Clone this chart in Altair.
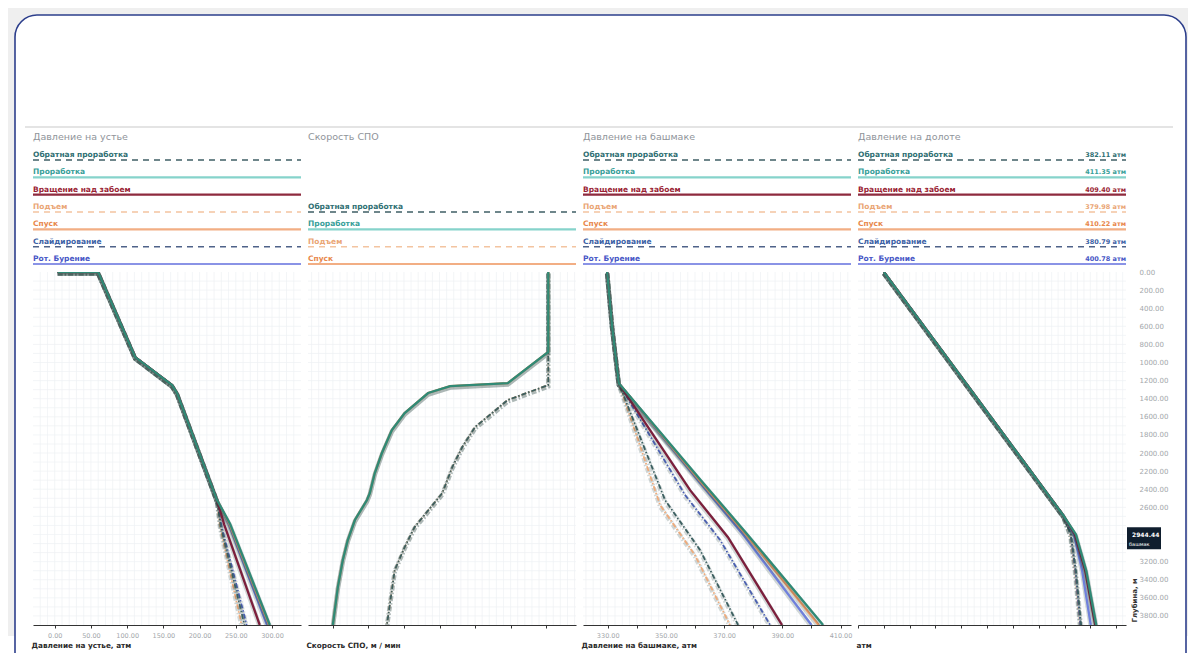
import altair as alt
import pandas as pd

FONT = "DejaVu Sans"

# ---------------- categories / styles ----------------
SERIES = ["Обратная проработка", "Проработка", "Вращение над забоем", "Подъем",
          "Спуск", "Слайдирование", "Рот. Бурение"]
LEGEND_LINE_COLORS = ["#3f5f66", "#86d3cb", "#8e2a3e", "#f3c4a0", "#f2ae84", "#4f6289", "#8a93e6"]
LABEL_COLORS = ["#2f6f73", "#39a099", "#9a1f35", "#eaa676", "#e8874c", "#3d62a6", "#4757c6"]
PLOT_COLORS = ["#3b5f60", "#2f8a76", "#7c1f3c", "#eeab7c", "#ee9a66", "#4a5fb0", "#6f80dc"]
DASHED = [True, False, False, True, False, True, False]
DRAW_ORDER = ["Подъем", "Слайдирование", "Обратная проработка", "Рот. Бурение",
              "Спуск", "Вращение над забоем", "Проработка"]
BIT_PRESSURE_LABELS = ["382.11 атм", "411.35 атм", "409.40 атм", "379.98 атм",
                       "410.22 атм", "380.79 атм", "400.78 атм"]

PANEL_TITLES = ["Давление на устье", "Скорость СПО", "Давление на башмаке", "Давление на долоте"]
AXIS_TITLES = ["Давление на устье, атм", "Скорость СПО, м / мин", "Давление на башмаке, атм", "атм"]
PANEL_SERIES = [SERIES, ["Обратная проработка", "Проработка", "Подъем", "Спуск"], SERIES, SERIES]

# ---------------- axes ----------------
X_DOMAINS = [[-30, 340], [-3.5, 34.2], [321.5, 413.6], [-50, 469]]
X_TICKS = [[0, 50, 100, 150, 200, 250, 300],
           [0, 5, 10, 15, 20, 25, 30],
           [330, 340, 350, 360, 370, 380, 390, 400, 410],
           [-50, 0, 50, 100, 150, 200, 250, 300, 350, 400, 450]]
X_GRID_STEP = [10, 1, 2.5, 12.5]
DEPTH_DOMAIN = [0, 3900]
DEPTH_TICKS = [0, 200, 400, 600, 800, 1000, 1200, 1400, 1600, 1800, 2000, 2200, 2400, 2600,
               3200, 3400, 3600, 3800]
SHOE_DEPTH = 2944.44
SHOE_LABEL = "башмак"

# ---------------- panel 1: wellhead pressure ----------------
WH_TOP_DEPTH = [0, 0, 940, 1250, 1340, 2520]
WH_TOP_P = [4, 60, 111, 162, 169, 224]
WH_TAIL = {
    "Обратная проработка": ([2800, 3900], [229, 262]),
    "Проработка": ([2780, 3900], [242, 297]),
    "Вращение над забоем": ([2790, 3900], [234, 283]),
    "Подъем": ([2800, 3900], [228, 258]),
    "Спуск": ([2780, 3900], [241, 296]),
    "Слайдирование": ([2800, 3900], [230, 265]),
    "Рот. Бурение": ([2780, 3900], [240, 293]),
}

# ---------------- panel 2: tripping speed ----------------
SPO_SOLID_DEPTH = [0, 884, 1227, 1260, 1337, 1558, 1746, 2000, 2221, 2442, 2519, 2740, 2961, 3182, 3481, 3900]
SPO_SOLID_V = [30.3, 30.3, 24.6, 16.5, 13.4, 10.1, 8.3, 6.9, 5.9, 5.2, 4.8, 3.1, 2.1, 1.4, 0.7, 0.0]
SPO_DASH_DEPTH = [0, 1249, 1414, 1558, 1713, 1934, 2155, 2442, 2818, 3039, 3293, 3900]
SPO_DASH_V = [30.3, 30.3, 24.6, 22.4, 20.0, 18.2, 16.8, 15.4, 11.5, 10.1, 8.7, 7.6]

# ---------------- panel 3: shoe pressure ----------------
SHOE_TOP_DEPTH = [0, 600, 1230]
SHOE_TOP_P = [329.8, 331.5, 333.8]
SHOE_TAIL = {
    "Обратная проработка": ([2520, 3070, 3900], [349.7, 361.7, 374.8]),
    "Проработка": ([2300, 2880, 3900], [362.0, 377.5, 404.0]),
    "Вращение над забоем": ([2410, 2930, 3900], [358.3, 371.3, 389.9]),
    "Подъем": ([2575, 3130, 3900], [348.0, 360.0, 372.0]),
    "Спуск": ([2300, 2880, 3900], [361.5, 377.0, 402.5]),
    "Слайдирование": ([2465, 2960, 3900], [356.6, 368.6, 385.8]),
    "Рот. Бурение": ([2300, 2880, 3900], [361.0, 376.0, 400.0]),
}

# ---------------- panel 4: bit pressure ----------------
BIT_TOP_DEPTH = [0, 1300, 2685]
BIT_TOP_P = [0, 168, 347]
BIT_TAIL = {
    "Обратная проработка": ([2900, 3300, 3900], [362, 372, 382.11]),
    "Проработка": ([2900, 3300, 3900], [372, 392, 411.35]),
    "Вращение над забоем": ([2900, 3300, 3900], [370, 390, 409.40]),
    "Подъем": ([2900, 3300, 3900], [361, 370, 379.98]),
    "Спуск": ([2900, 3300, 3900], [371, 391, 410.22]),
    "Слайдирование": ([2900, 3300, 3900], [362, 371, 380.79]),
    "Рот. Бурение": ([2900, 3300, 3900], [368, 384, 400.78]),
}

W = 268
HEAD_H = 144
PLOT_H = 353
GAP = 3


def build_frame(top_d, top_v, tails):
    rows = []
    for s, (d, v) in tails.items():
        dd = list(top_d) + list(d)
        vv = list(top_v) + list(v)
        for i, (a, b) in enumerate(zip(dd, vv)):
            rows.append({"series": s, "i": i, "depth": a, "value": b})
    return pd.DataFrame(rows)


def build_spo():
    rows = []
    for s, (d, v) in {"Обратная проработка": (SPO_DASH_DEPTH, SPO_DASH_V),
                      "Подъем": (SPO_DASH_DEPTH, SPO_DASH_V),
                      "Проработка": (SPO_SOLID_DEPTH, SPO_SOLID_V),
                      "Спуск": (SPO_SOLID_DEPTH, SPO_SOLID_V)}.items():
        for i, (a, b) in enumerate(zip(d, v)):
            rows.append({"series": s, "i": i, "depth": a, "value": b})
    return pd.DataFrame(rows)


PANEL_DATA = [build_frame(WH_TOP_DEPTH, WH_TOP_P, WH_TAIL), build_spo(),
              build_frame(SHOE_TOP_DEPTH, SHOE_TOP_P, SHOE_TAIL),
              build_frame(BIT_TOP_DEPTH, BIT_TOP_P, BIT_TAIL)]

hy = alt.Scale(domain=[-1.846, 6.462], reverse=True, nice=False, zero=False)


def header(k):
    names = PANEL_SERIES[k]
    offset = len(SERIES) - len(names) if k == 1 else 0
    recs = []
    for j, s in enumerate(names):
        idx = SERIES.index(s)
        recs.append({"row": j + offset, "label": s, "lc": LEGEND_LINE_COLORS[idx],
                     "tc": LABEL_COLORS[idx], "dash": "dash" if DASHED[idx] else "solid",
                     "sw": 1.5 if DASHED[idx] else 2.2, "val": BIT_PRESSURE_LABELS[idx]})
    df = pd.DataFrame(recs)
    ycode = alt.Y("row:Q", scale=hy, axis=None)
    title = alt.Chart(pd.DataFrame({"t": [PANEL_TITLES[k]]})).mark_text(
        align="left", baseline="middle", fontSize=9.5, color="#8f949a", font=FONT
    ).encode(x=alt.value(0), y=alt.value(9), text="t:N")
    rules = alt.Chart(df).mark_rule().encode(
        x=alt.value(0), x2=alt.value(W), y=ycode,
        color=alt.Color("lc:N", scale=None),
        strokeWidth=alt.StrokeWidth("sw:Q", scale=None),
        strokeDash=alt.StrokeDash("dash:N", scale=alt.Scale(domain=["solid", "dash"],
                                                            range=[[1, 0], [6, 5]]), legend=None),
    )
    labels = alt.Chart(df).mark_text(
        align="left", baseline="alphabetic", dy=-3, fontSize=7.5, fontWeight="bold", font=FONT
    ).encode(x=alt.value(0), y=ycode, text="label:N", color=alt.Color("tc:N", scale=None))
    layers = [title, rules, labels]
    if k == 3:
        vals = alt.Chart(df).mark_text(
            align="right", baseline="alphabetic", dy=-3, fontSize=6.5, fontWeight="bold", font=FONT
        ).encode(x=alt.value(W), y=ycode, text="val:N", color=alt.Color("tc:N", scale=None))
        layers.append(vals)
    return alt.layer(*layers).properties(width=W, height=HEAD_H)


def x_axis(k):
    common = dict(values=X_TICKS[k], title=AXIS_TITLES[k], titleAnchor="start", titleAlign="left",
                  titleX=-2, titleY=20, titleBaseline="middle", titleFontSize=7.3,
                  titleFontWeight="bold", titleColor="#2a2a2a", titleFont=FONT,
                  labelColor="#a3a7ab", labelFontSize=6.5, labelFont=FONT, labelPadding=4,
                  tickColor="#333333", tickSize=3, domainColor="#333333", domainWidth=1.2,
                  grid=False, labelFlush=False)
    if k == 0:
        return alt.Axis(format=".2f", **common)
    if k == 2:
        return alt.Axis(labelExpr="datum.value % 20 == 10 ? format(datum.value, '.2f') : ''", **common)
    return alt.Axis(labels=False, **common)


def y_axis(k):
    if k != 3:
        return None
    return alt.Axis(orient="right", values=DEPTH_TICKS, format=".2f", domain=False, ticks=False,
                    grid=False, labelColor="#a3a7ab", labelFontSize=7, labelFont=FONT,
                    labelPadding=13, title="Глубина, м", titleAngle=270, titleX=8, titleY=350,
                    titleAlign="left", titleBaseline="middle", titleFontSize=7,
                    titleFontWeight="bold", titleColor="#333333", titleFont=FONT)


def plot(k):
    xs = alt.Scale(domain=X_DOMAINS[k], nice=False, zero=False)
    ys = alt.Scale(domain=DEPTH_DOMAIN, reverse=True, nice=False, zero=False)
    xa = x_axis(k)
    ya = y_axis(k)
    lo, hi = X_DOMAINS[k]
    step = X_GRID_STEP[k]
    gx_vals = []
    v = lo - (lo % step) + step
    while v < hi:
        gx_vals.append(v)
        v += step
    gy_vals = list(range(100, 3900, 100))
    layers = [
        alt.Chart(pd.DataFrame({"value": gx_vals})).mark_rule(color="#eef0f3", strokeWidth=0.7)
        .encode(x=alt.X("value:Q", scale=xs, axis=xa)),
        alt.Chart(pd.DataFrame({"depth": gy_vals})).mark_rule(color="#eef0f3", strokeWidth=0.7)
        .encode(y=alt.Y("depth:Q", scale=ys, axis=ya)),
    ]
    df = PANEL_DATA[k]
    for s in DRAW_ORDER:
        sub = df[df.series == s]
        if sub.empty:
            continue
        idx = SERIES.index(s)
        enc = dict(x=alt.X("value:Q", scale=xs, axis=xa), y=alt.Y("depth:Q", scale=ys, axis=ya),
                   order="i:Q")
        dash = {"strokeDash": [5, 2, 1.5, 2]} if DASHED[idx] else {}
        layers.append(alt.Chart(sub).mark_line(color="#1d3b35", opacity=0.2, strokeWidth=4.5,
                                               yOffset=1.5, clip=True, **dash).encode(**enc))
        layers.append(alt.Chart(sub).mark_line(color=PLOT_COLORS[idx], strokeWidth=2.3 if not DASHED[idx] else 1.8,
                                               clip=True, **dash).encode(**enc))
    if k == 3:
        box = pd.DataFrame({"depth": [SHOE_DEPTH], "lo": [SHOE_DEPTH - 125], "hi": [SHOE_DEPTH + 120],
                            "label": [f"{SHOE_DEPTH:.2f}"], "sub": [SHOE_LABEL]})
        layers.append(alt.Chart(box).mark_rect(color="#0f1e2e").encode(
            x=alt.value(W + 1), x2=alt.value(W + 35),
            y=alt.Y("lo:Q", scale=ys, axis=ya), y2="hi:Q"))
        layers.append(alt.Chart(box).mark_text(align="left", baseline="middle", dy=-4, fontSize=6,
                                               fontWeight="bold", color="white", font=FONT).encode(
            x=alt.value(W + 6), y=alt.Y("depth:Q", scale=ys, axis=ya), text="label:N"))
        layers.append(alt.Chart(box).mark_text(align="left", baseline="middle", dy=5, fontSize=5,
                                               color="white", font=FONT).encode(
            x=alt.value(W + 3), y=alt.Y("depth:Q", scale=ys, axis=ya), text="sub:N"))
    return alt.layer(*layers).properties(width=W, height=PLOT_H)


panels = [alt.vconcat(header(k), plot(k), spacing=0, bounds="flush") for k in range(4)]
row = alt.hconcat(*panels, spacing=GAP)

TOTAL_W = 4 * W + 3 * 7
one = pd.DataFrame({"a": [0]})
bg = alt.Chart(one).mark_rect(color="#efefef").encode(
    x=alt.value(-25), x2=alt.value(1155), y=alt.value(0), y2=alt.value(628))
frame = alt.Chart(one).mark_rect(fill="white", stroke="#2d3f8c", strokeWidth=1.6, cornerRadius=22).encode(
    x=alt.value(-18), x2=alt.value(1153), y=alt.value(7), y2=alt.value(700))
sep = alt.Chart(one).mark_rule(color="#c9c9c9", strokeWidth=1).encode(
    x=alt.value(-8), x2=alt.value(1140), y=alt.value(119))
top = alt.layer(bg, frame, sep).properties(width=TOTAL_W, height=120)

chart = (alt.vconcat(top, row, spacing=0, bounds="flush")
         .properties(padding=0)
         .configure(font=FONT)
         .configure_view(strokeWidth=0, stroke="transparent"))

chart.save("out.html", embed_options={"renderer": "svg", "actions": False})
